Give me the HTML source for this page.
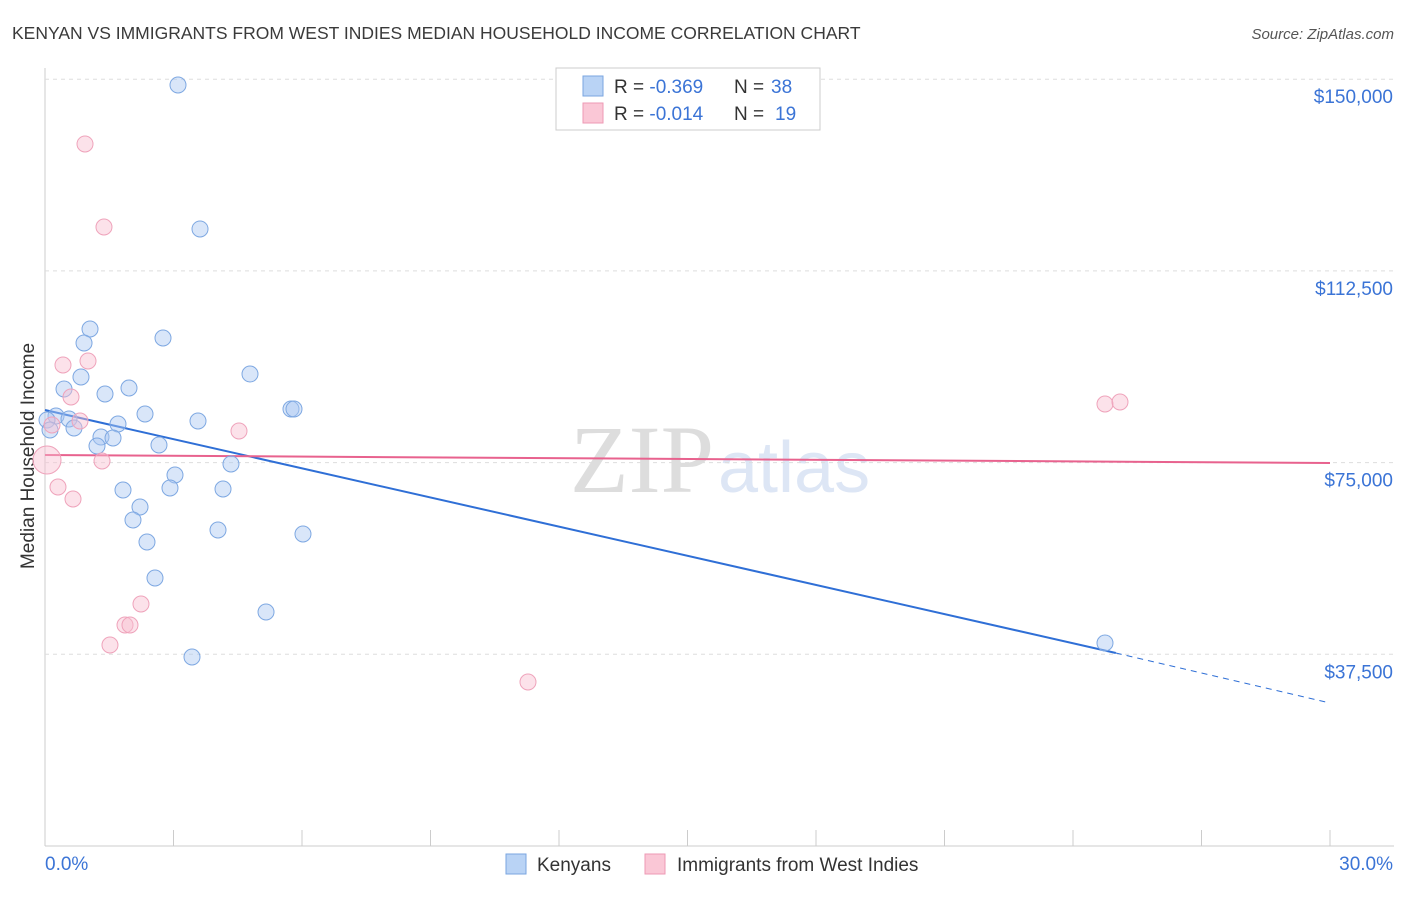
<!DOCTYPE html>
<html><head><meta charset="utf-8"><style>
body{margin:0;background:#fff;font-family:"Liberation Sans",sans-serif;}
</style></head><body>
<svg id="c" width="1406" height="892" xmlns="http://www.w3.org/2000/svg">
<text x="12" y="39" font-size="17.5" fill="#3a3a3a">KENYAN VS IMMIGRANTS FROM WEST INDIES MEDIAN HOUSEHOLD INCOME CORRELATION CHART</text>
<text x="1394" y="39" font-size="15" fill="#555" font-style="italic" text-anchor="end">Source: ZipAtlas.com</text>
<text x="714" y="492" font-size="96" fill="#ddd" text-anchor="end" font-family="Liberation Serif">ZIP</text>
<text x="718" y="492" font-size="72" fill="#dde6f5">atlas</text>
<text x="34" y="456" font-size="19" fill="#333" text-anchor="middle" transform="rotate(-90 34 456)">Median Household Income</text>
<g id="grid"></g><g id="trend"></g><g id="pts"></g>
<g>
<rect x="556" y="68" width="264" height="62" fill="#fff" stroke="#ccc"/>
<rect x="583" y="76" width="20" height="20" fill="#b9d3f5" stroke="#7aa6e0"/>
<text x="614" y="93" font-size="19" fill="#333">R = <tspan fill="#3b74d6">-0.369</tspan></text>
<text x="734" y="93" font-size="19" fill="#333">N = </text>
<text x="771" y="93" font-size="19" fill="#3b74d6">38</text>
<rect x="583" y="103" width="20" height="20" fill="#fac7d6" stroke="#ee9ab4"/>
<text x="614" y="120" font-size="19" fill="#333">R = <tspan fill="#3b74d6">-0.014</tspan></text>
<text x="734" y="120" font-size="19" fill="#333">N = </text>
<text x="775" y="120" font-size="19" fill="#3b74d6">19</text>
</g>
<g>
<rect x="506" y="854" width="20" height="20" fill="#b9d3f5" stroke="#7aa6e0"/>
<text x="537" y="871" font-size="19" fill="#333">Kenyans</text>
<rect x="645" y="854" width="20" height="20" fill="#fac7d6" stroke="#ee9ab4"/>
<text x="677" y="871" font-size="19" fill="#333">Immigrants from West Indies</text>
</g>
<text x="45" y="870" font-size="19" fill="#3b74d6">0.0%</text>
<text x="1393" y="870" font-size="19" fill="#3b74d6" text-anchor="end">30.0%</text>
</svg>
<script>
const yTicks=[150000,112500,75000,37500];
const yTickLabels=["$150,000","$112,500","$75,000","$37,500"];
const blueX=[3.105,3.619,1.051,2.755,0.911,0.840,0.444,1.401,1.961,4.786,5.743,5.813,2.335,3.572,1.704,0.257,0.047,0.560,0.677,1.307,1.588,1.214,2.661,4.342,3.035,2.918,1.821,4.156,2.218,2.054,4.039,6.023,2.381,2.568,5.160,3.432,24.747,0.117];
const blueY=[148867,120699,101136,99375,98397,91746,89399,88420,89594,92333,85486,85486,84508,83138,82552,84117,83334,83530,81769,80009,79813,78248,78444,74727,72575,70032,69641,69837,66315,63772,61816,61034,59469,52426,45775,36972,39711,81378];
const pinkX=[0.934,1.377,0.420,1.004,0.607,0.817,0.163,0.047,1.331,4.529,0.303,0.654,2.241,1.868,1.984,1.517,11.276,24.747,25.097];
const pinkY=[137326,121089,94094,94876,87834,83138,82356,75509,75314,81182,70227,67880,47340,43232,43232,39320,32082,86464,86855];
const blueTrendX=[0,25,30], blueTrendY=[85290,37760,27970];
const pinkTrendX=[0,30], pinkTrendY=[76488,74923];
const X=v=>45+v/30*1285, Y=v=>846-v/37500*191.7;
const NS="http://www.w3.org/2000/svg";
function mk(t,a,p){const e=document.createElementNS(NS,t);for(const k in a)e.setAttribute(k,a[k]);document.getElementById(p).appendChild(e);return e;}
let ax=mk('line',{x1:45,y1:68,x2:45,y2:846,stroke:'#ccc'},'grid');

let bx=mk('line',{x1:45,y1:846,x2:1394,y2:846,stroke:'#ccc'},'grid');

for(let i=0;i<=10;i++){let t=mk('line',{x1:45+i*128.5,y1:830,x2:45+i*128.5,y2:846,stroke:'#ccc'},'grid');
}
yTicks.forEach((v,i)=>{let g=mk('line',{x1:45,y1:Y(v),x2:1394,y2:Y(v),stroke:'#ddd','stroke-dasharray':'4,4'},'grid');

let t=mk('text',{x:1393,y:Y(v)+24,'font-size':19,fill:'#3b74d6','text-anchor':'end'},'grid');t.textContent=yTickLabels[i];
});
blueX.forEach((x,i)=>{let c=mk('circle',{cx:X(x),cy:Y(blueY[i]),r:8,fill:'rgba(170,200,242,0.45)',stroke:'#7ea8e2','stroke-width':1},'pts');
});
pinkX.forEach((x,i)=>{let c=mk('circle',{cx:X(x),cy:Y(pinkY[i]),r:(i==7?14:8),fill:'rgba(248,190,208,0.45)',stroke:'#efa3bb','stroke-width':1},'pts');
});
let l1=mk('line',{x1:X(blueTrendX[0]),y1:Y(blueTrendY[0]),x2:X(blueTrendX[1]),y2:Y(blueTrendY[1]),stroke:'#2f6fd6','stroke-width':2},'trend');

let l2=mk('line',{x1:X(blueTrendX[1]),y1:Y(blueTrendY[1]),x2:X(blueTrendX[2]),y2:Y(blueTrendY[2]),stroke:'#2f6fd6','stroke-width':1,'stroke-dasharray':'6,5'},'trend');

let l3=mk('line',{x1:X(pinkTrendX[0]),y1:Y(pinkTrendY[0]),x2:X(pinkTrendX[1]),y2:Y(pinkTrendY[1]),stroke:'#e8628e','stroke-width':2},'trend');

</script>
</body></html>
